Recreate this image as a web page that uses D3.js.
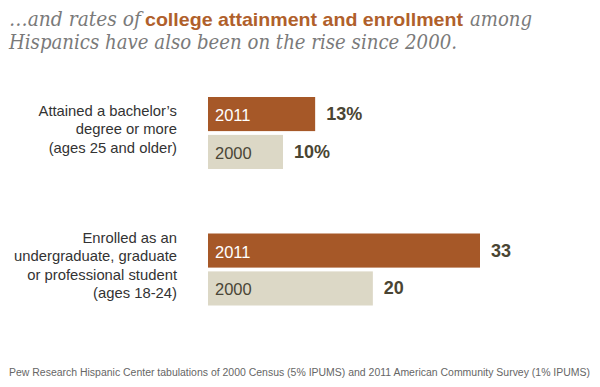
<!DOCTYPE html>
<html>
<head>
<meta charset="utf-8">
<script src="https://cdn.jsdelivr.net/npm/d3@7"></script>
<style>
  body { margin: 0; background: #fff; }
  svg { display: block; }
</style>
</head>
<body>
<svg id="chart" width="600" height="387"></svg>
<script>
// data
const categories = ["attained", "enrolled"];
const categoryLines = [
  ["Attained a bachelor\u2019s", "degree or more", "(ages 25 and older)"],
  ["Enrolled as an", "undergraduate, graduate", "or professional student", "(ages 18-24)"]
];
const years = ["2011", "2000"];
const values2011 = [13, 33];
const values2000 = [9.1, 20];
const valueLabels2011 = ["13%", "33"];
const valueLabels2000 = ["10%", "20"];

const svg = d3.select("#chart");

const serif = "'DejaVu Serif', Georgia, serif";
const sans = "'Liberation Sans', Arial, sans-serif";

// title, one piece at a time so each can be fitted to its width
let title = svg.append("g").attr("class", "title");
let titleParts = [
  { text: "\u2026and rates of", x: 9, y: 26, w: 132, bold: false },
  { text: "college attainment and enrollment", x: 145, y: 26, w: 318, bold: true },
  { text: "among", x: 470, y: 26, w: 62, bold: false },
  { text: "Hispanics have also been on the rise since 2000.", x: 9, y: 49, w: 448, bold: false }
];
title.selectAll("text")
  .data(titleParts)
  .enter().append("text")
  .attr("x", function (d) { return d.x; })
  .attr("y", function (d) { return d.y; })
  .attr("textLength", function (d) { return d.w; })
  .attr("lengthAdjust", "spacingAndGlyphs")
  .style("font-family", function (d) { return d.bold ? sans : serif; })
  .style("font-style", function (d) { return d.bold ? "normal" : "italic"; })
  .style("font-weight", function (d) { return d.bold ? "bold" : "normal"; })
  .style("font-size", function (d) { return d.bold ? "19px" : "20px"; })
  .attr("fill", function (d) { return d.bold ? "#b0602b" : "#7a7a7a"; })
  .text(function (d) { return d.text; });

// scales
let groupY = d3.scaleBand()
  .domain(categories)
  .range([97, 305.5])
  .paddingInner(0.4725);

let barY = d3.scaleBand()
  .domain(years)
  .range([0, groupY.bandwidth()])
  .paddingInner(0.1);

let x = d3.scaleLinear()
  .domain([0, 33])
  .range([208, 480]);

let rows = [];
categories.forEach(function (c, i) {
  rows.push({ cat: c, year: "2011", value: values2011[i], label: valueLabels2011[i] });
  rows.push({ cat: c, year: "2000", value: values2000[i], label: valueLabels2000[i] });
});

let barColor = { "2011": "#a65828", "2000": "#dcd8c6" };
let yearColor = { "2011": "#ffffff", "2000": "#4a4636" };

let bars = svg.append("g").selectAll(".bar")
  .data(rows)
  .enter().append("g")
  .attr("class", "bar")
  .attr("transform", function (d) {
    return "translate(0," + (groupY(d.cat) + barY(d.year)) + ")";
  });

bars.append("rect")
  .attr("x", x(0))
  .attr("y", 0)
  .attr("width", function (d) { return x(d.value) - x(0); })
  .attr("height", barY.bandwidth())
  .attr("fill", function (d) { return barColor[d.year]; });

bars.append("text")
  .attr("x", x(0) + 7)
  .attr("y", barY.bandwidth() / 2 + 7)
  .style("font-family", sans)
  .style("font-size", "16.5px")
  .attr("fill", function (d) { return yearColor[d.year]; })
  .text(function (d) { return d.year; });

bars.append("text")
  .attr("x", function (d) { return x(d.value) + 11; })
  .attr("y", barY.bandwidth() / 2 + 6)
  .style("font-family", sans)
  .style("font-size", "18px")
  .style("font-weight", "bold")
  .attr("fill", "#4a4533")
  .text(function (d) { return d.label; });

// category labels
let catG = svg.append("g").selectAll(".cat")
  .data(categories)
  .enter().append("text")
  .attr("class", "cat")
  .attr("text-anchor", "end")
  .style("font-family", sans)
  .style("font-size", "14.8px")
  .attr("fill", "#333");

catG.each(function (c, i) {
  let lines = categoryLines[i];
  let mid = groupY(c) + groupY.bandwidth() / 2;
  let first = mid - (lines.length - 1) / 2 * 18.5 + 1;
  d3.select(this).selectAll("tspan")
    .data(lines)
    .enter().append("tspan")
    .attr("x", 177)
    .attr("y", function (d, j) { return first + j * 18.5; })
    .text(function (d) { return d; });
});

// source note
svg.append("text")
  .attr("x", 9).attr("y", 376)
  .style("font-family", sans)
  .style("font-size", "10px")
  .attr("fill", "#666")
  .attr("textLength", 581)
  .attr("lengthAdjust", "spacingAndGlyphs")
  .text("Pew Research Hispanic Center tabulations of 2000 Census (5% IPUMS) and 2011 American Community Survey (1% IPUMS)");
</script>
</body>
</html>
